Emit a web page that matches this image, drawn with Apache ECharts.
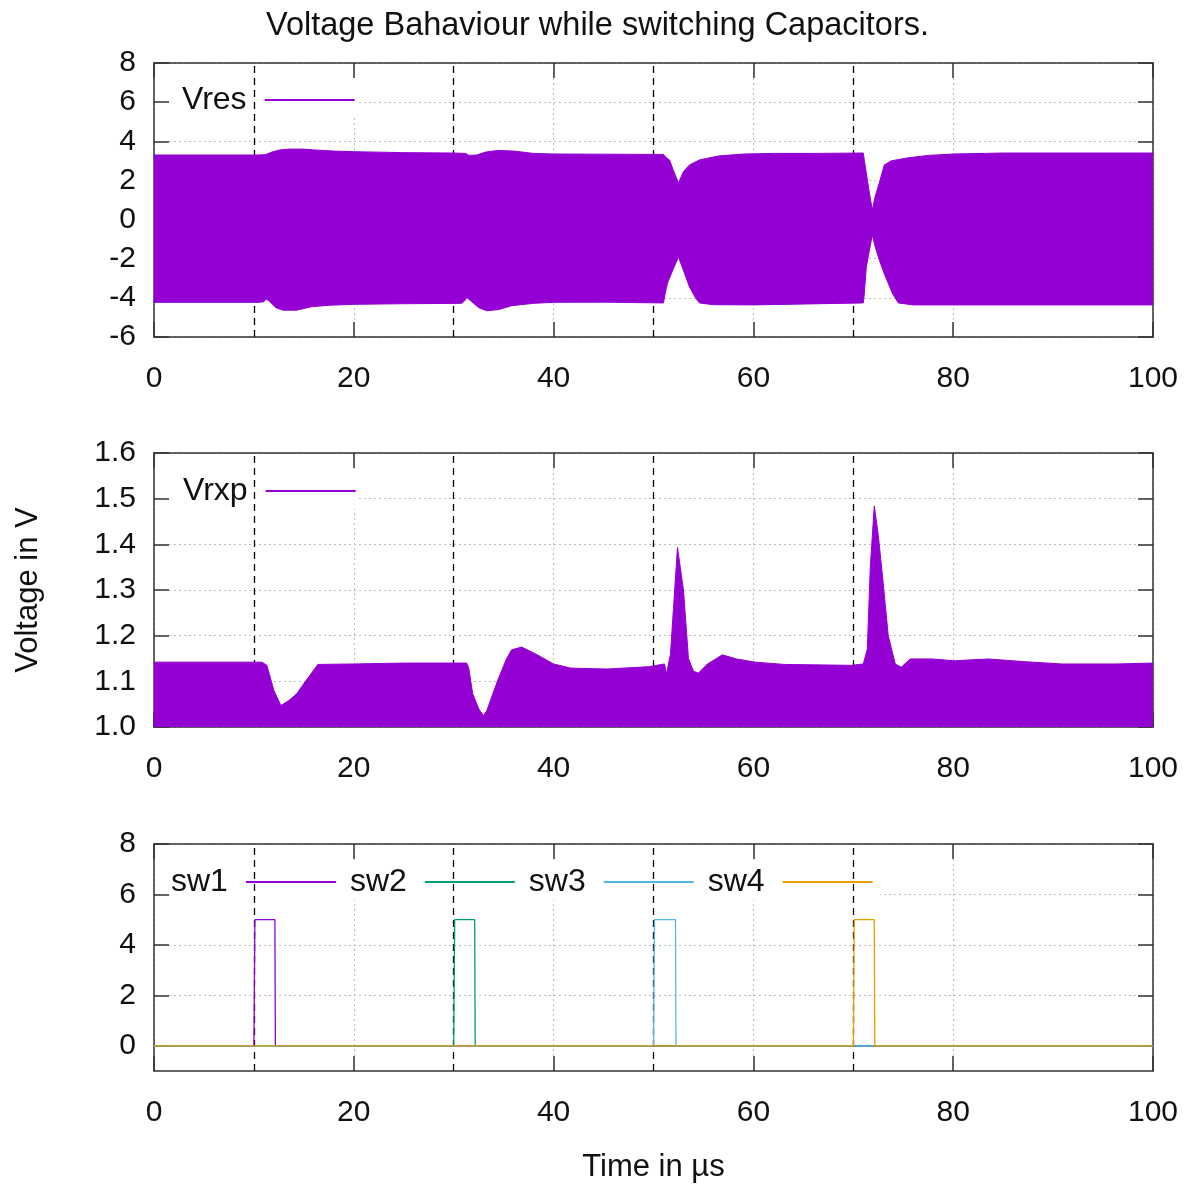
<!DOCTYPE html>
<html><head><meta charset="utf-8">
<script src="https://cdn.jsdelivr.net/npm/echarts@6/dist/echarts.min.js"></script>
<style>html,body{margin:0;padding:0;background:#fff}#c{width:1195px;height:1184px}</style>
</head><body><div id="c"></div>
<script>
// ---- Data ----
const titleText = 'Voltage Bahaviour while switching Capacitors.';
const xTicks = [0, 20, 40, 60, 80, 100];
const switchTimes = [10, 30, 50, 70];

// Vres envelope (time in µs, volts)
const resUpperT = [0, 10.5, 11.2, 11.8, 12.6, 13.5, 15.0, 16.0, 18.0, 20.0, 25.0, 30.0, 31.2, 31.5, 32.3, 33.2, 34.4, 36.0, 38.0, 40.0, 45.0, 51.0, 51.2, 51.6, 52.0, 52.5, 53.0, 53.6, 54.6, 56.5, 59.0, 62.0, 66.0, 71.0, 71.1, 71.3, 71.6, 71.9, 72.2, 72.6, 73.1, 73.8, 75.4, 77.5, 80.0, 85.0, 90.0, 100];
const resUpperV = [3.30, 3.30, 3.32, 3.45, 3.56, 3.60, 3.60, 3.56, 3.50, 3.47, 3.42, 3.40, 3.38, 3.28, 3.30, 3.45, 3.53, 3.50, 3.38, 3.35, 3.34, 3.33, 3.20, 3.05, 2.50, 1.87, 2.45, 2.79, 3.05, 3.25, 3.35, 3.38, 3.38, 3.40, 3.35, 2.38, 1.40, 0.49, 1.20, 1.87, 2.79, 3.00, 3.15, 3.28, 3.35, 3.40, 3.40, 3.40];
const resLowerT = [0, 10.5, 11.0, 11.2, 11.5, 12.2, 12.9, 14.3, 15.7, 17.5, 20.0, 25.0, 30.8, 31.1, 31.3, 31.7, 32.5, 33.3, 34.5, 35.8, 38.0, 40.0, 45.0, 51.0, 51.1, 51.4, 52.0, 52.5, 53.0, 53.6, 54.2, 54.6, 56.0, 60.0, 71.0, 71.1, 71.3, 71.6, 71.9, 72.2, 72.6, 73.2, 73.9, 74.5, 76.0, 100];
const resLowerV = [-4.23, -4.23, -4.20, -4.05, -4.15, -4.50, -4.63, -4.63, -4.46, -4.38, -4.33, -4.30, -4.28, -4.15, -3.98, -4.15, -4.50, -4.66, -4.60, -4.40, -4.28, -4.23, -4.22, -4.26, -3.95, -3.24, -2.50, -1.91, -2.60, -3.44, -4.00, -4.26, -4.35, -4.36, -4.26, -3.80, -2.43, -1.60, -0.79, -1.40, -2.07, -2.90, -3.75, -4.26, -4.36, -4.36];

// Vrxp upper envelope (signal fills down to 1.0 V)
const rxpT = [0, 10.8, 11.3, 12.0, 12.7, 13.5, 14.3, 15.0, 15.7, 16.4, 20.0, 25.0, 31.3, 31.5, 31.9, 32.5, 32.95, 33.3, 34.4, 35.3, 35.8, 36.8, 38.2, 40.0, 41.7, 45.3, 49.5, 51.1, 51.3, 51.7, 52.0, 52.4, 53.0, 53.5, 54.0, 54.5, 55.4, 56.9, 58.3, 60.2, 63.1, 69.8, 71.0, 71.4, 71.7, 72.1, 72.5, 72.9, 73.5, 74.2, 74.8, 75.7, 77.9, 80.1, 83.5, 87.2, 90.9, 96.4, 100];
const rxpV = [1.142, 1.142, 1.135, 1.080, 1.047, 1.058, 1.073, 1.095, 1.116, 1.137, 1.138, 1.140, 1.140, 1.130, 1.073, 1.040, 1.025, 1.035, 1.102, 1.150, 1.169, 1.175, 1.160, 1.138, 1.129, 1.127, 1.132, 1.138, 1.116, 1.160, 1.260, 1.393, 1.300, 1.150, 1.122, 1.118, 1.138, 1.158, 1.149, 1.142, 1.137, 1.135, 1.138, 1.170, 1.350, 1.484, 1.420, 1.335, 1.200, 1.138, 1.131, 1.149, 1.149, 1.145, 1.149, 1.143, 1.138, 1.138, 1.140];

// Switch signals
const sw1T = [0, 10.0, 10.1, 12.1, 12.15, 100];
const sw1V = [0, 0, 5, 5, 0, 0];
const sw2T = [0, 30.0, 30.1, 32.1, 32.15, 100];
const sw2V = [0, 0, 5, 5, 0, 0];
const sw3T = [0, 50.0, 50.1, 52.2, 52.25, 100];
const sw3V = [0, 0, 5, 5, 0, 0];
const sw4T = [0, 70.0, 70.1, 72.1, 72.15, 100];
const sw4V = [0, 0, 5, 5, 0, 0];
const swYTicks = [0, 2, 4, 6, 8];

// ---- Styling ----
const FONT = 'Liberation Sans';
const PURPLE = '#9400d3';
const TXT = '#111';
const zip = (a, b) => a.map((v, i) => [v, b[i]]);

const grids = [
  { left: 154, right: 42, top: 63, height: 274 },
  { left: 154, right: 42, top: 453, height: 274 },
  { left: 154, right: 42, top: 844, height: 227 }
];
const border = { onZero: false, lineStyle: { color: '#333', width: 1.5 } };
const tick = { inside: true, length: 15, lineStyle: { color: '#333', width: 1.5 } };
const gridLine = { show: true, lineStyle: { color: '#bdbdbd', type: [2, 3], width: 1 } };

const xAxis = [], yAxis = [];
grids.forEach((g, gi) => {
  const bottomAx = {
    gridIndex: gi, type: 'value', min: 0, max: 100, interval: 20, position: 'bottom',
    axisLine: border, axisTick: tick, splitLine: { show: false }, z: 2,
    axisLabel: { fontSize: 30, color: TXT, fontFamily: FONT, margin: 27,
      customValues: xTicks }
  };
  if (gi === 2) {
    bottomAx.name = 'Time in µs';
    bottomAx.nameLocation = 'middle';
    bottomAx.nameGap = 81;
    bottomAx.nameTextStyle = { fontSize: 31, color: TXT, fontFamily: FONT };
  }
  xAxis.push(bottomAx);
  xAxis.push({
    gridIndex: gi, type: 'value', min: 0, max: 100, interval: 20, position: 'top',
    axisLine: border, axisTick: tick, axisLabel: { show: false }, splitLine: gridLine, z: 0
  });
});

const yCfg = [
  { min: -6, max: 8, interval: 2, fmt: v => String(v) },
  { min: 1.0, max: 1.6, interval: 0.1, fmt: v => v.toFixed(1) },
  { min: -1, max: 8, interval: 1, fmt: v => String(v), custom: swYTicks }
];
yCfg.forEach((c, gi) => {
  const left = {
    gridIndex: gi, type: 'value', min: c.min, max: c.max, interval: c.interval, position: 'left',
    axisLine: border, axisTick: Object.assign({}, tick), splitLine: { show: false }, z: 2,
    axisLabel: { fontSize: 30, color: TXT, fontFamily: FONT, margin: 18, formatter: c.fmt }
  };
  const right = {
    gridIndex: gi, type: 'value', min: c.min, max: c.max, interval: c.interval, position: 'right',
    axisLine: border, axisTick: Object.assign({}, tick), axisLabel: { show: false }, splitLine: gridLine, z: 0
  };
  if (c.custom) {
    left.axisLabel.customValues = c.custom;
    left.axisTick.customValues = c.custom;
    right.axisTick.customValues = c.custom;
  }
  if (gi === 1) {
    left.name = 'Voltage in V';
    left.nameLocation = 'middle';
    left.nameGap = 110;
    left.nameTextStyle = { fontSize: 31, color: TXT, fontFamily: FONT };
  }
  yAxis.push(left, right);
});

const series = [];
// dashed switching markers (beneath the data)
grids.forEach((g, gi) => {
  series.push({
    type: 'line', xAxisIndex: gi * 2, yAxisIndex: gi * 2, data: [], z: 2, silent: true,
    markLine: {
      z: 2, silent: true, symbol: ['none', 'none'], label: { show: false }, animation: false,
      lineStyle: { color: '#000', type: [7, 5], width: 1.3 },
      data: switchTimes.map(t => ({ xAxis: t }))
    }
  });
});
const env = (name, data, xi, yi, origin) => ({
  name, type: 'line', xAxisIndex: xi, yAxisIndex: yi, data, showSymbol: false, symbol: 'none',
  color: PURPLE, lineStyle: { color: PURPLE, width: 1 },
  areaStyle: { color: PURPLE, opacity: 1, origin }, z: 3
});
// the two halves overlap slightly around 0 so no seam shows
series.push(env('Vres', zip(resUpperT, resUpperV), 0, 0, -0.3));
series.push(env('Vres', zip(resLowerT, resLowerV), 0, 0, 0.3));
series.push(env('Vrxp', zip(rxpT, rxpV), 2, 2, 'start'));
const swColors = ['#9400d3', '#009e73', '#56b4e9', '#e69f00'];
[[sw1T, sw1V], [sw2T, sw2V], [sw3T, sw3V], [sw4T, sw4V]].forEach((s, i) => {
  series.push({
    name: 'sw' + (i + 1), type: 'line', xAxisIndex: 4, yAxisIndex: 4,
    data: zip(s[0], s[1]), showSymbol: false, symbol: 'none', color: swColors[i],
    lineStyle: { color: swColors[i], width: 1.3 }, z: 3 + i
  });
});

const legendBase = {
  selectedMode: false, align: 'right', icon: 'rect', itemWidth: 90, itemHeight: 2,
  textStyle: { fontSize: 32, color: TXT, fontFamily: FONT, padding: [0, 13, 0, 0] }
};
const legend = [
  Object.assign({}, legendBase, { data: ['Vres'], left: 177, top: 79 }),
  Object.assign({}, legendBase, { data: ['Vrxp'], left: 178, top: 470 }),
  Object.assign({}, legendBase, { data: ['sw1', 'sw2', 'sw3', 'sw4'], left: 166, top: 861, itemGap: 14 })
];

const option = {
  animation: false,
  backgroundColor: '#fff',
  title: { text: titleText, left: 'center', top: 5,
    textStyle: { fontSize: 32.5, fontWeight: 'normal', color: TXT, fontFamily: FONT } },
  grid: grids,
  xAxis, yAxis, series, legend,
  graphic: { elements: [
    { type: 'rect', shape: { x: 158, y: 78, width: 200, height: 40 }, style: { fill: '#fff' }, z: 1, silent: true },
    { type: 'rect', shape: { x: 158, y: 469, width: 200, height: 40 }, style: { fill: '#fff' }, z: 1, silent: true },
    { type: 'rect', shape: { x: 158, y: 860, width: 722, height: 40 }, style: { fill: '#fff' }, z: 1, silent: true }
  ] }
};
const chart = echarts.init(document.getElementById('c'), null, { renderer: 'canvas' });
chart.setOption(option);
</script>
</body></html>
